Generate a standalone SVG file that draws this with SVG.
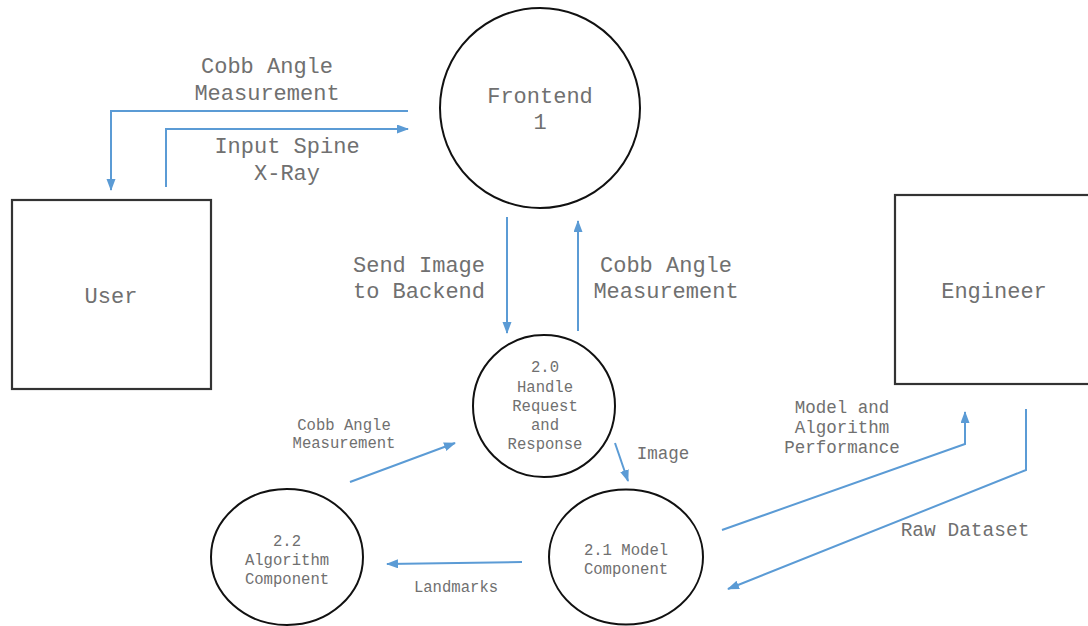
<svg xmlns="http://www.w3.org/2000/svg" width="1088" height="626" viewBox="0 0 1088 626">
  <style>
    text { font-family: "Liberation Mono", "Courier New", monospace; fill: #707070; text-anchor: middle; }
    .big { font-size: 22px; }
    .mid { font-size: 17.5px; }
    .sm { font-size: 15.6px; }
    .box { fill: #fff; stroke: #333; stroke-width: 2.2; }
    .proc { fill: #fff; stroke: #111; stroke-width: 2; }
    .flow { fill: none; stroke: #5b9bd5; stroke-width: 2; marker-end: url(#head); }
  </style>
  <defs>
    <marker id="head" markerUnits="userSpaceOnUse" markerWidth="12" markerHeight="10" refX="11" refY="4.5" orient="auto">
      <path d="M0,0 L12,4.5 L0,9 z" fill="#5b9bd5"/>
    </marker>
  </defs>

  <rect width="1088" height="626" fill="#fff"/>

  <!-- external entities -->
  <g id="user">
    <rect class="box" x="12" y="200" width="199" height="189"/>
    <text class="big" x="111" y="303">User</text>
  </g>
  <g id="engineer">
    <rect class="box" x="895" y="195" width="200" height="189"/>
    <text class="big" x="994" y="298">Engineer</text>
  </g>

  <!-- processes -->
  <g id="frontend">
    <circle class="proc" cx="540" cy="108" r="100"/>
    <text class="big" x="540" y="103">Frontend</text>
    <text class="big" x="540" y="129">1</text>
  </g>
  <g id="handle-request">
    <circle class="proc" cx="544" cy="406" r="71"/>
    <text class="sm" x="545" y="372">2.0</text>
    <text class="sm" x="545" y="392">Handle</text>
    <text class="sm" x="545" y="411">Request</text>
    <text class="sm" x="545" y="430">and</text>
    <text class="sm" x="545" y="449">Response</text>
  </g>
  <g id="model-component">
    <ellipse class="proc" cx="626" cy="557" rx="77" ry="67.5"/>
    <text class="sm" x="626" y="555">2.1 Model</text>
    <text class="sm" x="626" y="574">Component</text>
  </g>
  <g id="algorithm-component">
    <ellipse class="proc" cx="287" cy="557" rx="76" ry="68"/>
    <text class="sm" x="287" y="546">2.2</text>
    <text class="sm" x="287" y="565">Algorithm</text>
    <text class="sm" x="287" y="584">Component</text>
  </g>

  <!-- data flows -->
  <g id="connectors">
    <path class="flow" d="M408,111 H111 V190"/>
    <path class="flow" d="M166,187 V129 H408"/>
    <path class="flow" d="M507,217 V333"/>
    <path class="flow" d="M578,331 V221"/>
    <path class="flow" d="M615,443 L628,481"/>
    <path class="flow" d="M350,482 L455,443"/>
    <path class="flow" d="M522,562 L387,564"/>
    <path class="flow" d="M722,530 L965,444 V412"/>
    <path class="flow" d="M1026,409 V470 L728,589"/>
  </g>

  <!-- flow labels -->
  <g id="labels">
    <text class="big" x="267" y="73">Cobb Angle</text>
    <text class="big" x="267" y="100">Measurement</text>
    <text class="big" x="287" y="153">Input Spine</text>
    <text class="big" x="287" y="180">X-Ray</text>
    <text class="big" x="419" y="272">Send Image</text>
    <text class="big" x="419" y="298">to Backend</text>
    <text class="big" x="666" y="272">Cobb Angle</text>
    <text class="big" x="666" y="298">Measurement</text>
    <text class="sm" x="344" y="430">Cobb Angle</text>
    <text class="sm" x="344" y="448">Measurement</text>
    <text class="mid" x="663" y="459">Image</text>
    <text class="sm" x="456" y="592">Landmarks</text>
    <text class="mid" x="842" y="413">Model and</text>
    <text class="mid" x="842" y="433">Algorithm</text>
    <text class="mid" x="842" y="453">Performance</text>
    <text style="font-size:19.5px" x="965" y="536">Raw Dataset</text>
  </g>
</svg>
